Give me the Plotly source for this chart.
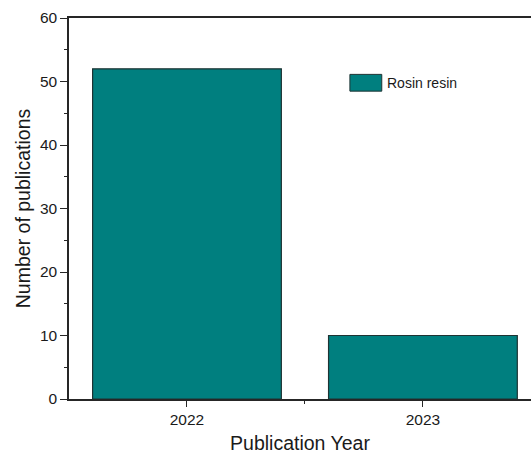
import plotly.graph_objects as go

# Publication counts per year
years = ["2022", "2023"]
publications = [52, 10]
series_name = "Rosin resin"

positions = list(range(len(years)))

bar_color = "#007f7f"
edge_color = "#1e3333"
axis_color = "#262626"
font_family = "Arial, 'Liberation Sans', sans-serif"

fig = go.Figure()
fig.add_trace(go.Bar(
    x=positions,
    y=publications,
    width=0.8,
    name=series_name,
    marker=dict(color=bar_color, line=dict(color=edge_color, width=1.2)),
    showlegend=False,
))

# Legend-style key: swatch plus label
fig.add_shape(
    type="rect", xref="paper", yref="paper",
    x0=0.608, x1=0.677, y0=0.808, y1=0.852,
    fillcolor=bar_color, line=dict(color=edge_color, width=1),
)
fig.add_annotation(
    text=series_name, xref="paper", yref="paper",
    x=0.684, y=0.830, xanchor="left", yanchor="middle",
    showarrow=False, font=dict(size=14, color="#1a1a1a", family=font_family),
)

fig.update_layout(
    width=531, height=457,
    margin=dict(l=69, r=0, t=18, b=58),
    plot_bgcolor="white", paper_bgcolor="white",
    font=dict(family=font_family, color="#1a1a1a"),
    bargap=0.2,
)

fig.update_xaxes(
    range=[-0.5, 1.458],
    tickmode="array", tickvals=positions, ticktext=years,
    ticks="outside", ticklen=6, tickwidth=1.3, tickcolor=axis_color,
    minor=dict(tickmode="array", tickvals=[0.5], ticks="outside",
               ticklen=3, tickwidth=1.3, tickcolor=axis_color),
    showline=True, linecolor=axis_color, linewidth=1.5, mirror=True,
    showgrid=False, zeroline=False,
    tickfont=dict(size=15.5),
    title=dict(text="Publication Year", font=dict(size=19.5), standoff=9),
)

fig.update_yaxes(
    range=[0, 60], dtick=10, tick0=0,
    ticks="outside", ticklen=7, tickwidth=1.3, tickcolor=axis_color,
    minor=dict(dtick=5, ticks="outside", ticklen=3, tickwidth=1.3,
               tickcolor=axis_color),
    showline=True, linecolor=axis_color, linewidth=1.5,
    showgrid=False, zeroline=False,
    tickfont=dict(size=15.5),
    title=dict(text="Number of publications", font=dict(size=19.5), standoff=4),
)

fig.write_html("out.html")
